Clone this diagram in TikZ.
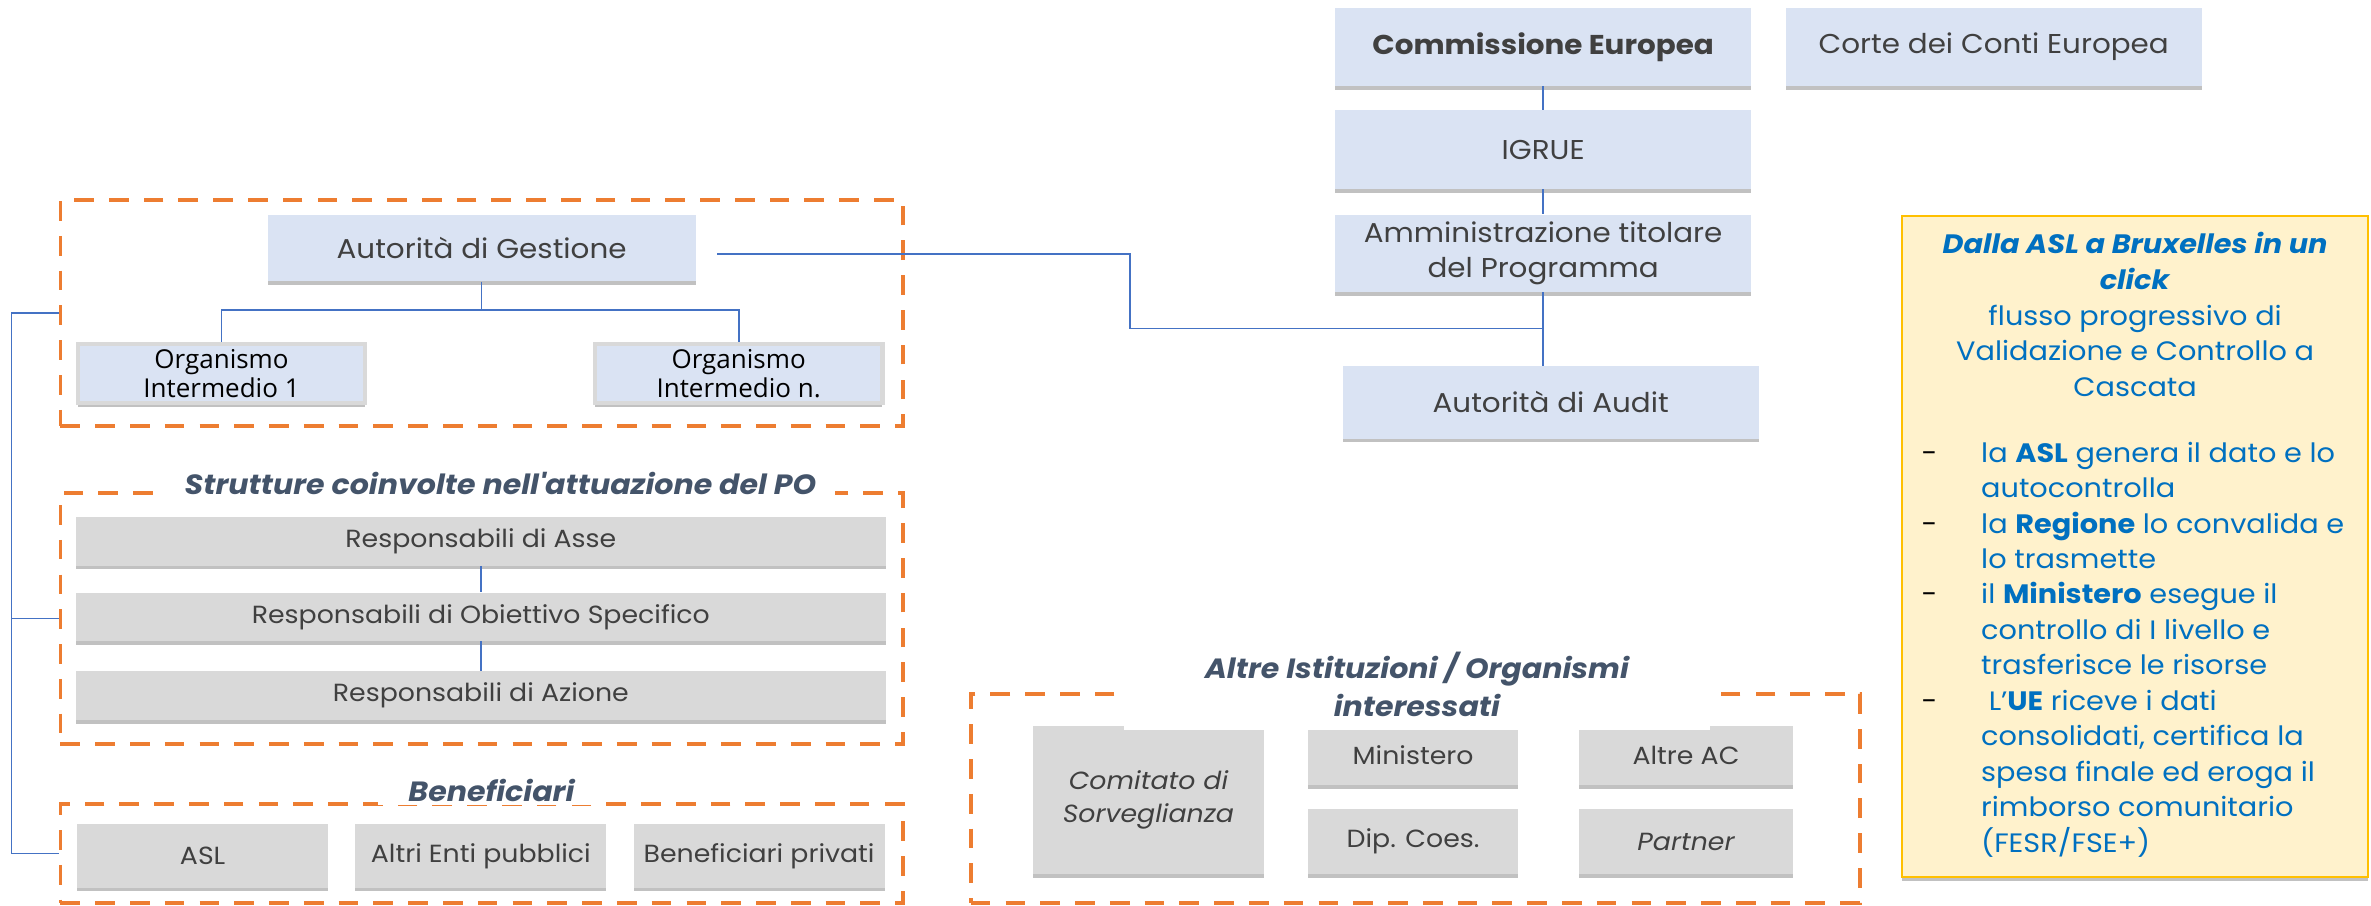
\documentclass[tikz,border=0pt]{standalone}
\usepackage{fontspec}
\setmainfont{Poppins}[FakeStretch=1.08]
\newfontfamily\oifont{Open Sans}
\usetikzlibrary{shadows}
\definecolor{boxblue}{RGB}{218,227,243}
\definecolor{boxgray}{RGB}{217,217,217}
\definecolor{dashorange}{RGB}{237,125,49}
\definecolor{linkblue}{RGB}{68,114,196}
\definecolor{txtgray}{RGB}{64,64,64}
\definecolor{ttlslate}{RGB}{68,84,106}
\definecolor{notefill}{RGB}{255,242,204}
\definecolor{notedraw}{RGB}{255,192,0}
\definecolor{noteblue}{RGB}{0,112,192}
\tikzset{
  shadebox/.style={drop shadow={shadow xshift=0pt,shadow yshift=-2.5pt,opacity=0.35,fill=black!70}},
  bluebox/.style={shadebox,fill=boxblue,inner sep=2pt,align=center,text=txtgray,font=\fontsize{18}{23}\selectfont},
  graybox/.style={shadebox,fill=boxgray,inner sep=2pt,align=center,text=txtgray,font=\fontsize{16.4}{22}\selectfont},
  orgbox/.style={shadebox,fill=boxblue,draw=boxgray,line width=3pt,inner sep=2pt,align=center,text=black,font=\oifont\fontsize{17.2}{19}\selectfont},
  groupbox/.style={draw=dashorange,line width=2.6pt,dash pattern=on 13pt off 10pt,inner sep=0pt},
  grouptitle/.style={fill=white,inner ysep=2pt,text=ttlslate,align=center,font=\fontsize{18.4}{25}\selectfont\bfseries\itshape},
  link/.style={draw=linkblue,line width=1.1pt},
  notebox/.style={shadebox,fill=notefill,draw=notedraw,line width=1.4pt},
}
\begin{document}
\begin{tikzpicture}[x=1pt,y=-1pt]
\useasboundingbox (0,0) rectangle (1568,599);

%Shape: Dashed groups
\node[groupbox,minimum width=557,minimum height=150] (g1) at (318.5,207) {};
\node[groupbox,minimum width=557,minimum height=166] (g2) at (318.5,409) {};
\node[groupbox,minimum width=557,minimum height=65] (g3) at (318.5,564.5) {};
\node[groupbox,minimum width=588,minimum height=138] (g4) at (936,528) {};

%Shape: Rectangle (EU level)
\node[bluebox,minimum width=275,minimum height=52] (comm) at (1020.5,31) {\textbf{Commissione Europea}};
\node[bluebox,minimum width=275,minimum height=52] (corte) at (1318.5,31) {Corte dei Conti Europea};
\node[bluebox,minimum width=275,minimum height=52] (igrue) at (1020.5,99) {IGRUE};
\node[bluebox,minimum width=275,minimum height=51] (amm) at (1020.5,167.5) {Amministrazione titolare\\del Programma};
\node[bluebox,minimum width=275,minimum height=48] (audit) at (1025.5,266) {Autorità di Audit};

%Shape: Rectangle (management)
\node[bluebox,minimum width=283,minimum height=44] (adg) at (318.5,164) {Autorità di Gestione};
\node[orgbox,minimum width=190,minimum height=39] (oi1) at (146.5,247) {Organismo\\Intermedio 1};
\node[orgbox,minimum width=190,minimum height=39] (oin) at (488.5,247) {Organismo\\Intermedio n.};

%Shape: Rectangle (structures)
\node[graybox,minimum width=536,minimum height=32] (rasse) at (318,358) {Responsabili di Asse};
\node[graybox,minimum width=536,minimum height=32] (robj) at (318,408) {Responsabili di Obiettivo Specifico};
\node[graybox,minimum width=536,minimum height=32] (razione) at (318,460) {Responsabili di Azione};

%Shape: Rectangle (beneficiaries)
\node[graybox,minimum width=166,minimum height=42] (asl) at (134,566) {ASL};
\node[graybox,minimum width=166,minimum height=42] (enti) at (318,566) {Altri Enti pubblici};
\node[graybox,minimum width=166,minimum height=42] (privati) at (502,566) {Beneficiari privati};

%Shape: Rectangle (other bodies)
\node[graybox,minimum width=153,minimum height=98] (cds) at (759.5,529) {\itshape Comitato di\\\itshape Sorveglianza};
\node[graybox,minimum width=139,minimum height=39] (min) at (934.5,499.5) {Ministero};
\node[graybox,minimum width=139,minimum height=43] (dip) at (934.5,556.5) {Dip. Coes.};
\node[graybox,minimum width=142,minimum height=39] (altreac) at (1115,499.5) {Altre AC};
\node[graybox,minimum width=142,minimum height=43] (partner) at (1115,556.5) {\itshape Partner};

% Text Node (group titles)
\node[grouptitle,inner xsep=12pt] (t2) at (331,320) {Strutture coinvolte nell\textquotesingle attuazione del PO};
\node[grouptitle,inner xsep=20pt] (t3) at (325,523) {Beneficiari};
\node[grouptitle,minimum width=388,minimum height=61] (t4) at (937,452.5) {Altre Istituzioni / Organismi\\interessati};

%Straight Lines
\draw[link] (comm.south) -- (igrue.north);
\draw[link] (igrue.south) -- (amm.north);
\draw[link] (amm.south) -- (amm.south |- audit.north);
\coordinate (join) at ([yshift=-24pt]amm.south);
\draw[link] ([xshift=14pt,yshift=-4pt]adg.east) -- ++(273,0) |- (join);
\coordinate (fork) at ([yshift=-19pt]adg.south);
\draw[link] (adg.south) -- (fork);
\draw[link] (oi1.north) |- (fork) -| (oin.north);
\draw[link] (rasse.south) -- (robj.north);
\draw[link] (robj.south) -- (razione.north);
\draw[link] (g1.west) -- ++(-31,0) |- (g3.west);
\draw[link] (g2.west) -- ++(-31,0);

%Shape: Note
\node[notebox,minimum width=308,minimum height=437] (note) at (1412,361.5) {};
% Text Node
\node[text=noteblue,align=center,inner sep=0pt,font=\fontsize{17.6}{23.5}\selectfont] (nhead) at (1412,208)
  {\textbf{\textit{Dalla ASL a Bruxelles in un}}\\\textbf{\textit{click}}\\flusso progressivo di\\Validazione e Controllo a\\Cascata};
% Text Node
\node[text=noteblue,align=left,inner sep=0pt,anchor=north west,font=\fontsize{17.6}{23.45}\selectfont] (nlist) at (1310,292)
  {\llap{\textcolor{black}{-}\hspace{29pt}}la \textbf{ASL} genera il dato e lo\\autocontrolla\\
   \llap{\textcolor{black}{-}\hspace{29pt}}la \textbf{Regione} lo convalida e\\lo trasmette\\
   \llap{\textcolor{black}{-}\hspace{29pt}}il \textbf{Ministero} esegue il\\controllo di I livello e\\trasferisce le risorse\\
   \llap{\textcolor{black}{-}\hspace{29pt}}\hspace{5pt}L’\textbf{UE} riceve i dati\\consolidati, certifica la\\spesa finale ed eroga il\\rimborso comunitario\\(FESR/FSE+)};

\end{tikzpicture}
\end{document}
